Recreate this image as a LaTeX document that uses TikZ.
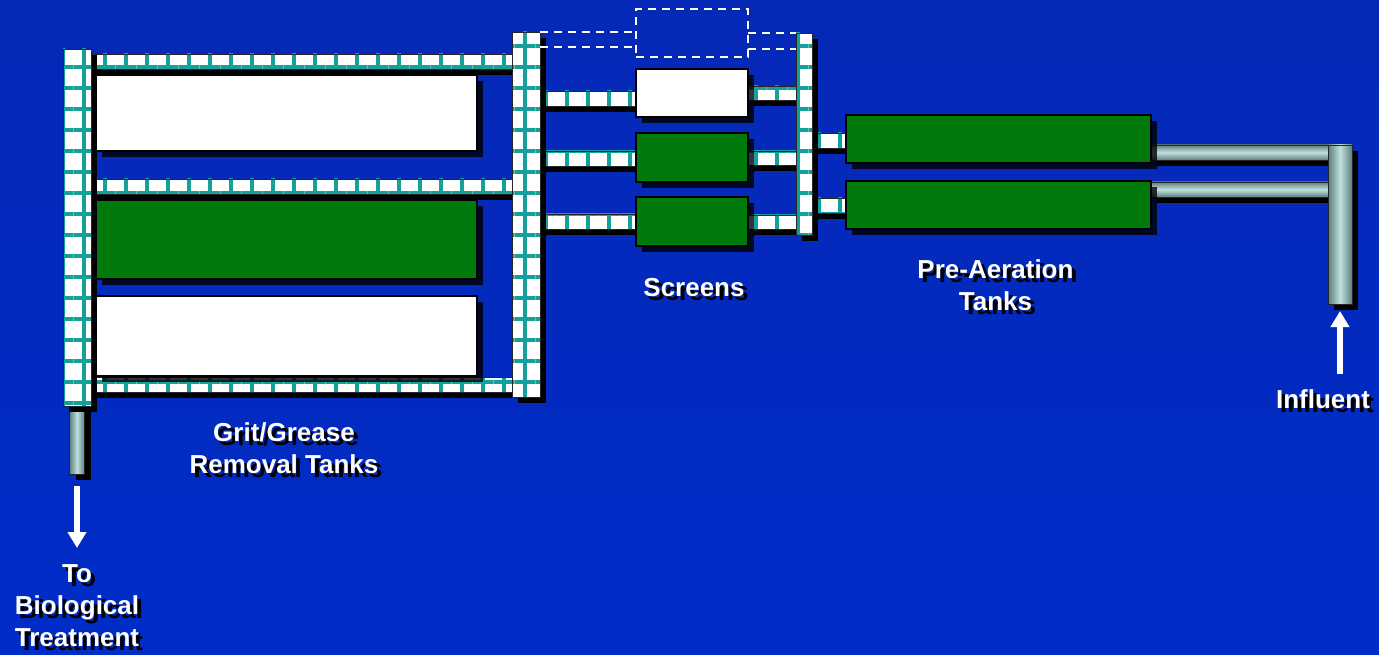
\documentclass[tikz,border=0pt]{standalone}
\usepackage{fontspec}
\setmainfont{Liberation Sans}
\usetikzlibrary{arrows.meta,positioning,shadows,patterns.meta}
\definecolor{bgtop}{RGB}{6,40,182}
\definecolor{bgbot}{RGB}{0,44,200}
\definecolor{gridteal}{RGB}{20,160,155}
\definecolor{tankgreen}{RGB}{0,122,10}
\definecolor{pipedark}{RGB}{95,125,125}
\definecolor{pipelight}{RGB}{192,224,224}
\definecolor{txtshadow}{RGB}{0,0,0}
\pgfdeclarelayer{bg}
\pgfdeclarelayer{pipes}
\pgfsetlayers{bg,pipes,main}
\newcommand{\shtext}[1]{%
	\makebox[0pt][l]{\hspace{4pt}\raisebox{-4pt}{\textcolor{txtshadow}{\begin{tabular}{@{}c@{}}#1\end{tabular}}}}%
	\begin{tabular}{@{}c@{}}#1\end{tabular}}
\tikzset{
	blackshadow/.style={drop shadow={shadow xshift=6pt, shadow yshift=-6pt, opacity=#1, fill=black}},
	blackshadow/.default=1,
	wh/.style 2 args={minimum width=#1pt, minimum height=#2pt},
	tank/.style={draw=black, line width=1.5pt, inner sep=0pt, outer sep=0pt, anchor=north west, blackshadow=.8},
	gridpipe/.style={draw=black!85, line width=.8pt, inner sep=0pt, outer sep=0pt, blackshadow, preaction={fill=white}, pattern={Hatch[angle=0, distance=21pt, line width=4pt]}, pattern color=gridteal},
	graypipe/.style={draw=black!85, line width=.8pt, inner sep=0pt, outer sep=0pt, blackshadow},
	hpipe/.style={graypipe, top color=pipedark, bottom color=pipedark, middle color=pipelight},
	vpipe/.style={graypipe, left color=pipedark, right color=pipedark, middle color=pipelight},
	planned/.style={draw=white, line width=1.5pt, dash pattern=on 8pt off 6pt},
	flow/.style={draw=white, line width=6pt, -{Triangle[width=18pt, length=16pt]}},
	lbl/.style={text=white, font=\fontsize{26}{32}\selectfont\bfseries, inner sep=0pt, anchor=north}
}

\begin{document}
\begin{tikzpicture}[x=1pt, y=-1pt]
	\useasboundingbox (0,0) rectangle (1379,655);
	\begin{pgfonlayer}{bg}
		\path[top color=bgtop, bottom color=bgbot] (0,0) rectangle (1379,655);
	\end{pgfonlayer}
	
	% manifolds
	\node[gridpipe, wh={28}{357}, anchor=north west] (gout) at (63,49) {};
	\node[gridpipe, wh={28}{365}, anchor=north west] (gin) at (512,32) {};
	\node[gridpipe, wh={16}{202}, anchor=north west] (sout) at (796,33) {};
	\node[vpipe, wh={24}{159}, anchor=north west] (riser) at (1328,145) {};
	
	% grit/grease removal tanks
	\node[tank, fill=white, wh={381}{76}] (grit1) at (96,75) {};
	\node[tank, fill=tankgreen, wh={381}{79}] (grit2) at (96,200) {};
	\node[tank, fill=white, wh={381}{80}] (grit3) at (96,296) {};
	
	% screens
	\node[tank, fill=white, wh={112}{48}] (scr1) at (636,69) {};
	\node[tank, fill=tankgreen, wh={112}{49}, below=16pt of scr1] (scr2) {};
	\node[tank, fill=tankgreen, wh={112}{49}, below=15pt of scr2] (scr3) {};
	\node[planned, wh={112}{48}, inner sep=0pt, outer sep=0pt, anchor=north west] (scr0) at (636,9) {};
	
	% pre-aeration tanks
	\node[tank, fill=tankgreen, wh={305}{48}] (aer1) at (846,115) {};
	\node[tank, fill=tankgreen, wh={305}{48}, below=18pt of aer1] (aer2) {};
	
	\begin{pgfonlayer}{pipes}
		\foreach \y in {54,179,377}
		\path[gridpipe] (gout.east |- 0,\y) rectangle (gin.west |- 0,\y+15);
		\foreach \y/\n in {91/1,151/2,214/3}
		\path[gridpipe] (gin.east |- 0,\y) rectangle (scr\n.west |- 0,\y+15);
		\foreach \y/\n in {86/1,151/2,215/3}
		\path[gridpipe] (scr\n.east |- 0,\y) rectangle (sout.west |- 0,\y+14);
		\foreach \y/\n in {133/1,198/2}
		\path[gridpipe] (sout.east |- 0,\y) rectangle (aer\n.west |- 0,\y+15);
		\foreach \y/\n in {145/1,182/2}
		\path[hpipe] (aer\n.east |- 0,\y) rectangle (riser.west |- 0,\y+15);
		\node[vpipe, wh={15}{68}, anchor=north] (outlet) at (gout.south) {};
	\end{pgfonlayer}
	
	% future screen
	\draw[planned] (gin.east |- 0,32) -- (scr0.west |- 0,32);
	\draw[planned] (gin.east |- 0,47) -- (scr0.west |- 0,47);
	\draw[planned] (scr0.east |- 0,33) -- (sout.west |- 0,33);
	\draw[planned] (scr0.east |- 0,49) -- (sout.west |- 0,49);
	
	% labels
	\node[lbl] (gritlbl) at (284,418.6) {\shtext{Grit/Grease\\Removal Tanks}};
	\node[lbl] (scrlbl) at (694,274) {\shtext{Screens}};
	\node[lbl] (aerlbl) at (995.5,256) {\shtext{Pre-Aeration\\Tanks}};
	\node[lbl] (inflbl) at (1323,385.6) {\shtext{Influent}};
	\node[lbl] (biolbl) at (77,559.6) {\shtext{To\\Biological\\Treatment}};
	
	\draw[flow, shorten <=12pt, shorten >=11.6pt] (outlet.south) -- (outlet.south |- biolbl.north);
	\draw[flow, shorten <=11.6pt, shorten >=7pt] (riser.south |- inflbl.north) -- (riser.south);
\end{tikzpicture}
\end{document}
